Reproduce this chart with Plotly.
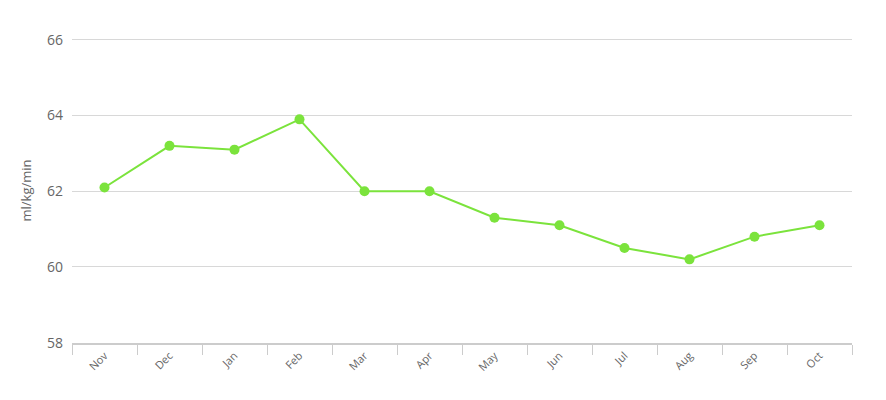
import plotly.graph_objects as go

months = ["Nov", "Dec", "Jan", "Feb", "Mar", "Apr", "May", "Jun", "Jul", "Aug", "Sep", "Oct"]
vo2 = [62.1, 63.2, 63.1, 63.9, 62.0, 62.0, 61.3, 61.1, 60.5, 60.2, 60.8, 61.1]
y_ticks = [58, 60, 62, 64, 66]

fig = go.Figure()
fig.add_trace(go.Scatter(
    x=months, y=vo2, mode="lines+markers",
    line=dict(color="#7be33c", width=2),
    marker=dict(color="#7be33c", size=10),
    hoverinfo="x+y", showlegend=False,
))

fig.update_layout(
    width=886, height=400,
    margin=dict(l=72, r=34, t=38, b=57),
    paper_bgcolor="white", plot_bgcolor="white",
    font=dict(family="Open Sans", color="#666666"),
    xaxis=dict(
        type="category", range=[-0.5, len(months) - 0.5],
        tickangle=-45, tickfont=dict(size=11, color="#666666"),
        showgrid=False, showline=True, linecolor="#cccccc", linewidth=2,
        ticks="outside", tickson="boundaries", ticklen=10, tickcolor="#cccccc",
        zeroline=False, fixedrange=True, automargin=False,
    ),
    yaxis=dict(
        range=[57.99, 66.05], tickvals=y_ticks, tickfont=dict(size=14, color="#666666"),
        showgrid=True, gridcolor="#d8d8d8", gridwidth=1, zeroline=False,
        showline=False, ticks="", ticklabelstandoff=8, automargin=False,
        title=dict(text="ml/kg/min", font=dict(size=13, color="#666666"), standoff=12),
    ),
    annotations=[dict(
        text="VO2 Max", xref="paper", yref="paper", x=0.5, y=-0.182,
        showarrow=False, yanchor="top", font=dict(size=13, color="#666666"),
    )],
)

fig.write_html(
    "out.html",
    config={"displayModeBar": False},
    post_script="document.body.style.margin='0';document.body.style.overflow='hidden';",
)
